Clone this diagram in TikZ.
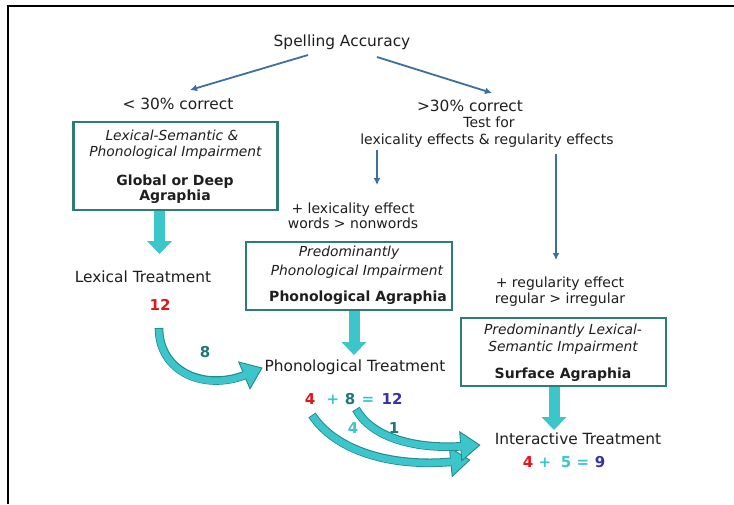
\documentclass[tikz,border=0pt]{standalone}
\usepackage{fontspec}
\setmainfont{DejaVu Sans}
\usetikzlibrary{arrows.meta,calc,decorations.markings}
\definecolor{turq}{HTML}{3CC6CC}
\definecolor{edgec}{HTML}{22898C}
\definecolor{boxc}{HTML}{2D7D77}
\definecolor{arrb}{HTML}{3E6F9F}
\definecolor{redn}{HTML}{E3161E}
\definecolor{tealn}{HTML}{1D7873}
\definecolor{bluen}{HTML}{3A31A6}
\definecolor{txt}{HTML}{1E1E1E}
\tikzset{
  tx/.style={inner sep=0pt, text=txt, text height=11pt, text depth=3pt, font=\fontsize{15.4}{18}\selectfont},
  smx/.style={inner sep=0pt, text=txt, text height=10pt, text depth=3pt, font=\fontsize{14}{17}\selectfont},
  itx/.style={inner sep=0pt, text=txt, text height=10pt, text depth=3pt, font=\fontsize{13.8}{17}\selectfont\itshape},
  bdx/.style={inner sep=0pt, text=txt, text height=10pt, text depth=3pt, font=\fontsize{14}{17}\selectfont\bfseries},
  numx/.style={inner sep=0pt, text height=11pt, text depth=0pt, font=\fontsize{15}{18}\selectfont\bfseries},
  boxn/.style={draw=boxc, line width=2.2pt, inner sep=0pt},
  thinarrow/.style={draw=arrb, line width=1.8pt, -{Latex[length=7pt,width=7pt]}},
  blockarrow/.style={
    postaction={draw=turq, line width=11pt, shorten >=11pt},
    postaction={decorate, decoration={markings, mark=at position -0.2pt with {\fill[turq, shorten >=0pt] (-12.8pt,12.5pt) -- (0.2pt,0pt) -- (-12.8pt,-12.5pt) -- cycle;}}}},
  curvarrow/.style={
    postaction={draw=edgec, line width=8.6pt, shorten >=15pt},
    postaction={decorate, decoration={markings, mark=at position -0.2pt with {\filldraw[fill=turq, draw=edgec, line width=0.9pt, line join=miter, shorten >=0pt, shorten <=0pt] (-18.8pt,14.5pt) -- (0.2pt,0pt) -- (-18.8pt,-14.5pt) -- cycle;}}},
    postaction={draw=turq, line width=6.8pt, shorten >=17pt, shorten <=0.9pt}}
}
\begin{document}
\begin{tikzpicture}[x=1pt,y=-1pt]
\useasboundingbox (0,0) rectangle (734,504);
\fill[white] (0,0) rectangle (734,504);
\draw[line width=2.2pt] (8,504) -- (8,6) -- (734,6);

% top level
\node[tx] (spell) at (342,42) {Spelling Accuracy};
\node[tx] (lt30) at (178,105) {< 30\% correct};
\node[tx] (gt30) at (470,107) {>30\% correct};
\node[smx] (testfor) at (489,124) {Test for};
\node[smx] (lexreg) at (487,141) {lexicality effects \& regularity effects};

% box 1
\node[boxn, minimum width=204pt, minimum height=88pt] (box1) at (175.5,166.2) {};
\node[itx] (b1a) at (172,137) {Lexical-Semantic \&};
\node[itx] (b1b) at (175.5,153) {Phonological Impairment};
\node[bdx] (b1c) at (175,182) {Global or Deep};
\node[bdx] (b1d) at (175,197) {Agraphia};

% lexicality branch
\node[smx] (lexeff) at (353,210) {+ lexicality effect};
\node[smx] (words) at (353,225) {words > nonwords};

% box 2
\node[boxn, minimum width=206pt, minimum height=68pt] (box2) at (349,276) {};
\node[itx] (b2a) at (349,253) {Predominantly};
\node[itx] (b2b) at (357,272) {Phonological Impairment};
\node[bdx] (b2c) at (358,298) {Phonological Agraphia};

% regularity branch
\node[smx] (regeff) at (560,284) {+ regularity effect};
\node[smx] (regirr) at (560,300) {regular > irregular};

% box 3
\node[boxn, minimum width=205pt, minimum height=68pt] (box3) at (563.5,352) {};
\node[itx] (b3a) at (563,331) {Predominantly Lexical-};
\node[itx] (b3b) at (563,348) {Semantic Impairment};
\node[bdx] (b3c) at (563,375) {Surface Agraphia};

% treatments
\node[tx] (lextreat) at (143,278) {Lexical Treatment};
\node[numx, text=redn] (n12) at (160,305) {12};
\node[tx] (phtreat) at (355,367) {Phonological Treatment};
\node[numx, text=redn] (n4) at (310,399) {4};
\node[numx, text=turq] (plus1) at (333,399) {+};
\node[numx, text=tealn] (n8b) at (350,399) {8};
\node[numx, text=turq] (eq1) at (368,399) {=};
\node[numx, text=bluen] (n12b) at (392,399) {12};
\node[tx] (intreat) at (578,440) {Interactive Treatment};
\node[numx, text=redn] (m4) at (528,462) {4};
\node[numx, text=turq] (plus2) at (545,462) {+};
\node[numx, text=turq] (m5) at (566,462) {5};
\node[numx, text=turq] (eq2) at (583,462) {=};
\node[numx, text=bluen] (m9) at (600,462) {9};

% arrow labels
\node[numx, text=tealn] (l8) at (205,352) {8};
\node[numx, text=turq] (l4) at (353,428) {4};
\node[numx, text=tealn] (l1) at (394,428) {1};

% thin arrows
\draw[thinarrow] ($(spell.center)+(-34,13)$) -- ($(lt30.center)+(12,-15)$);
\draw[thinarrow] ($(spell.center)+(35,15)$) -- ($(gt30.center)+(22,-14)$);
\draw[thinarrow] ($(lexreg.center)+(-110,9)$) -- ($(lexeff.center)+(24,-25)$);
\draw[thinarrow] ($(lexreg.center)+(69,13)$) -- ($(regeff.center)+(-4,-24)$);

% block arrows
\path[blockarrow] ($(box1.south)+(-16,0)$) -- ($(lextreat.center)+(16.5,-24)$);
\path[blockarrow] ($(box2.south)+(5,0)$) -- ($(phtreat.center)+(-1,-12)$);
\path[blockarrow] ($(box3.south)+(-9.5,0)$) -- ($(intreat.center)+(-24,-10)$);

% curved arrows
\path[curvarrow] ($(n12.center)+(-1,23)$) .. controls (159,372) and (205,392) .. ($(phtreat.west)+(-2.5,1)$);
\path[curvarrow] ($(n4.center)+(2,16)$) .. controls (335,450) and (390,468) .. ($(intreat.west)+(-25,20)$);
\path[curvarrow] ($(n8b.center)+(6,10)$) .. controls (370,435) and (410,450) .. ($(intreat.west)+(-15,5)$);
\end{tikzpicture}
\end{document}
